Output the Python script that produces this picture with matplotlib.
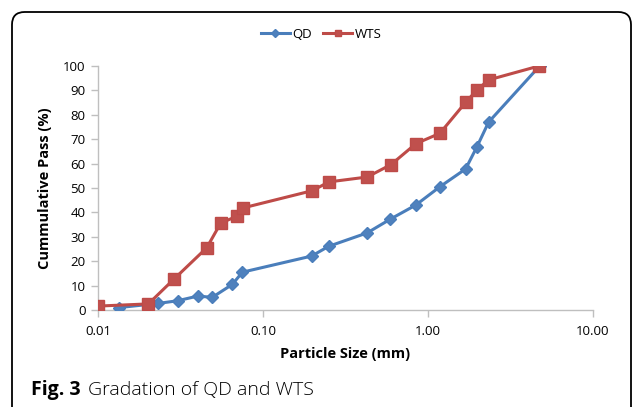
import matplotlib
matplotlib.use("Agg")
import matplotlib.pyplot as plt
from matplotlib.patches import FancyBboxPatch
from matplotlib.ticker import FixedLocator, FixedFormatter, NullLocator

plt.rcParams['font.family'] = ['Open Sans', 'DejaVu Sans']

qd_size = [0.0134, 0.0232, 0.0304, 0.0402, 0.0493, 0.0652, 0.075, 0.197, 0.25, 0.428, 0.59, 0.843, 1.18, 1.69, 1.98, 2.33, 4.75]
qd_pass = [1.0, 2.7, 3.8, 5.7, 5.2, 10.5, 15.5, 22.1, 26.1, 31.6, 37.2, 43.0, 50.5, 57.8, 66.9, 77.0, 100.0]

wts_size = [0.01, 0.0202, 0.0288, 0.0456, 0.0554, 0.0698, 0.0753, 0.199, 0.251, 0.428, 0.597, 0.846, 1.18, 1.69, 1.97, 2.33, 4.71]
wts_pass = [1.6, 2.5, 12.6, 25.5, 35.6, 38.5, 41.8, 48.9, 52.5, 54.5, 59.6, 68.2, 72.4, 85.1, 90.0, 94.3, 100.0]

x_ticks = [0.01, 0.1, 1.0, 10.0]
x_labels = ["0.01", "0.10", "1.00", "10.00"]
y_ticks = [0, 10, 20, 30, 40, 50, 60, 70, 80, 90, 100]

fig = plt.figure(figsize=(6.35, 4.07), dpi=100)
ax = fig.add_axes([98/635, 1 - 310/407, (593-98)/635, (310-66)/407])

ax.plot(qd_size, qd_pass, color='#4A7EBB', lw=2.2, marker='D', ms=6.5,
        mfc='#4F81BD', mec='#4A7EBB', label='QD', zorder=3)
ax.plot(wts_size, wts_pass, color='#BE4B48', lw=2.2, marker='s', ms=8,
        mfc='#C0504D', mec='#BE4B48', label='WTS', zorder=3)

ax.set_xscale('log')
ax.set_xlim(0.01, 10)
ax.set_ylim(0, 100)
ax.xaxis.set_major_locator(FixedLocator(x_ticks))
ax.xaxis.set_major_formatter(FixedFormatter(x_labels))
ax.xaxis.set_minor_locator(NullLocator())
ax.set_yticks(y_ticks)

for s in ['top', 'right']:
    ax.spines[s].set_visible(False)
for s in ['left', 'bottom']:
    ax.spines[s].set_color('#BFBFBF')
    ax.spines[s].set_linewidth(1.0)
ax.tick_params(axis='both', colors='#BFBFBF', labelcolor='black', labelsize=9.5,
               direction='out', length=5, width=1.0)
ax.tick_params(axis='x', pad=6)
ax.tick_params(axis='y', pad=4)

ax.set_xlabel('Particle Size (mm)', fontsize=10.5, fontweight='bold', labelpad=6)
ax.set_ylabel('Cummulative Pass (%)', fontsize=10.5, fontweight='bold', labelpad=8)

leg = fig.legend(loc='center', bbox_to_anchor=(321/635, 1 - 34/407), ncol=2,
                 frameon=False, fontsize=9.5, handlelength=2.2, handletextpad=0.15,
                 columnspacing=0.9, markerscale=0.6)

border = FancyBboxPatch((12/635, -0.1), (631-12)/635, (1 - 12/407) + 0.1,
                        boxstyle='round,pad=0,rounding_size=0.02',
                        transform=fig.transFigure, fill=False, ec='black', lw=1.3,
                        mutation_aspect=635/407)
fig.patches.append(border)

fig.text(31/635, 1 - 390/407, 'Fig. 3', fontsize=14, fontweight='bold', va='center', ha='left')
fig.text(88/635, 1 - 390/407, 'Gradation of QD and WTS', fontsize=14, fontweight='light',
         va='center', ha='left')

fig.savefig('out.png', dpi=100)
